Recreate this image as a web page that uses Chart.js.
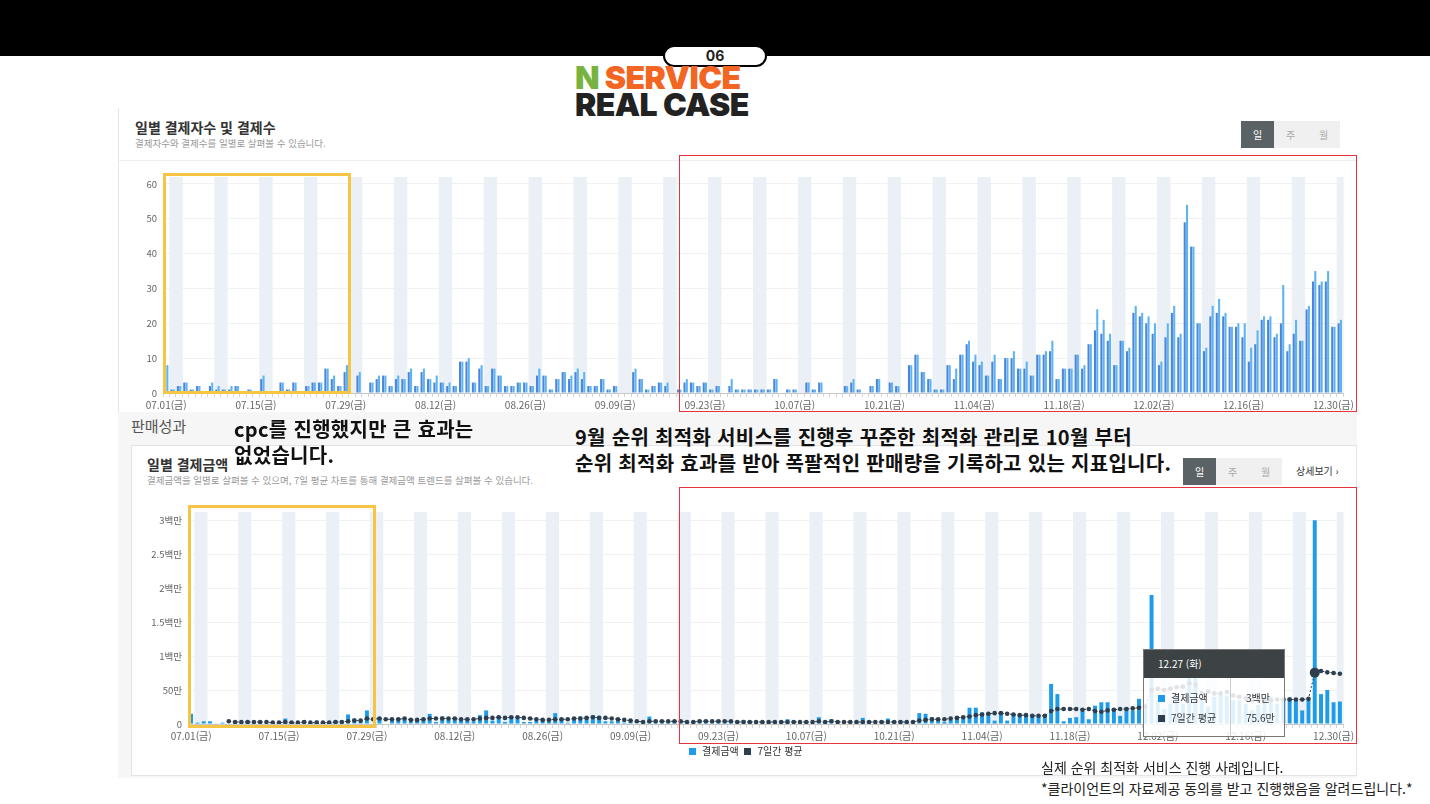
<!DOCTYPE html>
<html lang="ko">
<head>
<meta charset="utf-8">
<script src="https://cdn.jsdelivr.net/npm/chart.js@4.4.1/dist/chart.umd.min.js"></script>
<style>
  body { margin:0; width:1430px; height:804px; position:relative; overflow:hidden; background:#fff;
         font-family:"Noto Sans CJK KR","Noto Sans",sans-serif; color:#222; }
  .abs { position:absolute; }
  .topbar { left:0; top:0; width:1430px; height:56px; background:#000; }
  .pill { left:663px; top:45px; width:100px; height:18px; border:2px solid #000; border-radius:12px; background:#fff;
          font:700 14px/18px "Inter","Roboto",sans-serif; text-align:center; z-index:5; }
  .brand { left:575px; top:64px; font:900 32px/27px "Inter","Roboto",sans-serif; letter-spacing:-0.6px; z-index:5; }
  .brand .n { color:#78b340; } .brand .s { color:#f26522; }
  .panel1 { left:118px; top:108px; width:1239px; height:304px; background:#fff; border-left:1px solid #e6e6e6; }
  .panel1 .hr { position:absolute; left:0; top:52px; width:100%; height:1px; background:#efefef; }
  .graybg { left:118px; top:412px; width:1239px; height:366px; background:#f6f6f6; }
  .panel2 { left:131px; top:445px; width:1224px; height:329px; background:#fff; border:1px solid #e4e4e4; }
  .ttl { font-weight:700; font-size:14px; color:#333; white-space:nowrap; }
  .sub { font-size:9.5px; color:#999; white-space:nowrap; }
  .btns { display:flex; height:27px; }
  .btns div { width:33px; text-align:center; font-size:10px; line-height:27px; background:#f0f0f0; color:#aaa; }
  .btns div.on { background:#5a6266; color:#fff; }
  .yel { border:3px solid #f7c544; box-sizing:border-box; }
  .red { border:1.5px solid #e8323c; box-sizing:border-box; }
  .note { font-weight:700; font-size:20px; line-height:26px; letter-spacing:0.3px; color:#111; white-space:nowrap; }
  .tip { left:1143px; top:649px; width:142px; height:88px; border:1px solid #777; box-sizing:border-box;
         background:rgba(255,255,255,0.86); font-size:10px; color:#333; }
  .tip .hd { height:28px; background:#3d4244; color:#fff; line-height:28px; padding-left:14px; }
  .tip .row { position:absolute; left:14px; width:126px; height:14px; line-height:14px; white-space:nowrap; }
  .tip .val { position:absolute; left:88px; top:0; }
  .sq { display:inline-block; width:7px; height:7px; margin-right:6px; vertical-align:0px; }
  .legend { left:689px; top:743px; font-size:10px; color:#333; white-space:nowrap; }
  .foot { left:1041px; font-size:14px; color:#222; white-space:nowrap; }
</style>
</head>
<body>
<div class="abs topbar"></div>

<div class="abs panel1"><div class="hr"></div></div>
<div class="abs ttl" style="left:135px;top:117px;">일별 결제자수 및 결제수</div>
<div class="abs sub" style="left:135px;top:136px;">결제자수와 결제수를 일별로 살펴볼 수 있습니다.</div>
<div class="abs btns" style="left:1241px;top:121px;"><div class="on">일</div><div>주</div><div>월</div></div>

<div class="abs graybg"></div>
<div class="abs" style="left:131px;top:415px;font-size:15px;color:#555;">판매성과</div>
<div class="abs panel2"></div>
<div class="abs ttl" style="left:147px;top:454px;">일별 결제금액</div>
<div class="abs sub" style="left:147px;top:473px;">결제금액을 일별로 살펴볼 수 있으며, 7일 평균 차트를 통해 결제금액 트렌드를 살펴볼 수 있습니다.</div>
<div class="abs btns" style="left:1183px;top:458px;"><div class="on">일</div><div>주</div><div>월</div></div>
<div class="abs" style="left:1296px;top:463px;font-size:10px;color:#333;">상세보기 ›</div>

<canvas id="topChart" class="abs" style="left:120px;top:165px;" width="1235" height="250"></canvas>
<canvas id="bottomChart" class="abs" style="left:130px;top:500px;" width="1225" height="250"></canvas>

<div class="abs legend"><span class="sq" style="background:#1e9be9"></span>결제금액 &nbsp;<span class="sq" style="background:#2d3e4e"></span>7일간 평균</div>

<div class="abs yel" style="left:163px;top:173px;width:188px;height:221px;"></div>
<div class="abs yel" style="left:188px;top:505px;width:188px;height:223px;"></div>
<div class="abs red" style="left:679px;top:155px;width:678px;height:257px;"></div>
<div class="abs red" style="left:679px;top:487px;width:678px;height:257px;"></div>

<div class="abs note" style="left:234px;top:416px;">cpc를 진행했지만 큰 효과는<br>없었습니다.</div>
<div class="abs note" style="left:575px;top:424px;">9월 순위 최적화 서비스를 진행후 꾸준한 최적화 관리로 10월 부터<br>순위 최적화 효과를 받아 폭팔적인 판매량을 기록하고 있는 지표입니다.</div>

<div class="abs tip">
  <div class="hd">12.27 (화)</div>
  <div style="position:absolute;left:86px;top:28px;width:1px;height:58px;background:#ccc;"></div>
  <div class="row" style="top:41px;"><span class="sq" style="background:#1e9be9"></span>결제금액<span class="val">3백만</span></div>
  <div class="row" style="top:61px;"><span class="sq" style="background:#2d3e4e"></span>7일간 평균<span class="val">75.6만</span></div>
</div>

<div class="abs foot" style="top:757px;">실제 순위 최적화 서비스 진행 사례입니다.</div>
<div class="abs foot" style="top:778px;">*클라이언트의 자료제공 동의를 받고 진행했음을 알려드립니다.*</div>

<div class="abs pill">06</div>
<div class="abs brand"><span class="n">N</span> <span class="s">SERVICE</span><br>REAL CASE</div>

<script>
// 2022.07.01 ~ 2022.12.31, one bar per day
const startDate = new Date(2022, 6, 1);
const dayCount = 184;
const weekdayNames = ['일', '월', '화', '수', '목', '금', '토'];
const tickLabels = ['07.01(금)', '07.15(금)', '07.29(금)', '08.12(금)', '08.26(금)', '09.09(금)', '09.23(금)',
    '10.07(금)', '10.21(금)', '11.04(금)', '11.18(금)', '12.02(금)', '12.16(금)', '12.30(금)'];

// 결제자수
const payers = [
    7, 1, 2, 3, 1, 2, 0, 2, 1, 1,
    1, 2, 0, 1, 0, 4, 0, 0, 3, 1,
    3, 0, 2, 3, 3, 7, 4, 2, 6, 0,
    5, 0, 3, 4, 5, 2, 4, 4, 6, 2,
    6, 4, 3, 3, 2, 2, 9, 9, 3, 7,
    2, 7, 5, 2, 2, 3, 3, 2, 5, 5,
    1, 4, 6, 4, 6, 4, 2, 2, 4, 1,
    2, 0, 0, 6, 4, 1, 2, 3, 2, 0,
    1, 3, 3, 2, 3, 1, 2, 0, 2, 1,
    1, 1, 1, 1, 1, 4, 0, 1, 1, 0,
    3, 1, 3, 0, 0, 0, 2, 3, 1, 0,
    2, 4, 0, 3, 2, 0, 8, 11, 6, 4,
    1, 1, 8, 4, 11, 14, 9, 8, 5, 9,
    4, 10, 10, 7, 7, 5, 11, 11, 12, 4,
    7, 7, 11, 7, 14, 18, 17, 15, 8, 15,
    12, 23, 22, 20, 17, 8, 16, 23, 16, 49,
    42, 20, 12, 22, 23, 22, 19, 19, 16, 9,
    14, 21, 21, 16, 20, 12, 17, 15, 24, 32,
    31, 32, 19, 20
];
// 결제수
const payments = [
    8, 1, 2, 3, 1, 2, 0, 3, 2, 1,
    2, 2, 0, 1, 0, 5, 0, 0, 3, 1,
    3, 0, 2, 3, 3, 7, 5, 2, 8, 0,
    6, 0, 3, 5, 5, 2, 5, 4, 7, 2,
    7, 4, 5, 3, 3, 2, 9, 10, 3, 8,
    2, 7, 5, 2, 2, 3, 3, 2, 7, 5,
    1, 4, 6, 5, 7, 6, 2, 2, 4, 1,
    2, 0, 0, 7, 4, 1, 2, 3, 3, 0,
    1, 4, 3, 2, 3, 1, 2, 0, 4, 1,
    1, 1, 1, 1, 1, 4, 0, 1, 1, 0,
    3, 1, 3, 0, 0, 0, 2, 4, 1, 0,
    2, 4, 0, 3, 2, 0, 8, 11, 6, 4,
    1, 1, 8, 7, 11, 15, 11, 9, 5, 11,
    4, 10, 12, 7, 9, 5, 11, 12, 15, 4,
    7, 7, 11, 8, 14, 24, 21, 17, 8, 15,
    13, 25, 23, 22, 20, 9, 20, 25, 17, 54,
    42, 20, 13, 25, 27, 23, 19, 20, 20, 13,
    18, 22, 22, 17, 31, 14, 21, 15, 25, 35,
    32, 35, 19, 21
];
// 결제금액 (만원)
const salesAmount = [
    15, 2, 4, 4, 1, 2, 0, 3, 2, 2,
    2, 3, 0, 1, 0, 8, 0, 0, 5, 2,
    5, 0, 4, 5, 5, 14, 8, 4, 20, 0,
    10, 0, 5, 8, 9, 3, 8, 7, 15, 3,
    11, 7, 8, 5, 5, 4, 13, 20, 5, 12,
    3, 11, 8, 3, 3, 5, 5, 3, 16, 8,
    2, 7, 11, 8, 13, 12, 4, 4, 7, 2,
    3, 0, 0, 11, 6, 2, 3, 5, 4, 0,
    2, 6, 5, 3, 5, 2, 3, 0, 6, 2,
    2, 2, 2, 2, 2, 7, 0, 2, 2, 0,
    10, 2, 7, 0, 0, 0, 4, 9, 2, 0,
    3, 8, 0, 5, 3, 0, 16, 15, 10, 7,
    3, 6, 11, 12, 24, 24, 17, 15, 5, 18,
    5, 15, 15, 13, 14, 13, 13, 59, 44, 4,
    9, 10, 19, 7, 27, 32, 32, 22, 12, 24,
    20, 37, 28, 190, 35, 22, 30, 42, 30, 95,
    70, 35, 25, 40, 45, 42, 35, 35, 30, 20,
    28, 40, 40, 30, 38, 39, 34, 20, 38, 300,
    44, 50, 32, 33
];
// 7일간 평균 (만원)
const weeklyAvg = [
    null, null, null, null, null, null, 4, 3, 3, 3,
    3, 3, 3, 2, 2, 3, 2, 2, 3, 2,
    2, 2, 2, 3, 3, 4, 5, 5, 8, 7,
    8, 7, 7, 7, 8, 6, 6, 7, 8, 8,
    8, 8, 8, 7, 7, 7, 8, 9, 9, 10,
    9, 10, 10, 9, 8, 7, 6, 6, 7, 7,
    7, 8, 8, 9, 10, 9, 9, 8, 7, 6,
    5, 4, 3, 4, 4, 4, 4, 4, 4, 3,
    3, 4, 4, 4, 4, 4, 4, 3, 3, 3,
    3, 3, 3, 3, 3, 3, 3, 3, 3, 3,
    4, 3, 4, 3, 3, 3, 3, 3, 3, 3,
    3, 3, 3, 3, 3, 3, 5, 6, 7, 7,
    7, 8, 9, 10, 11, 13, 14, 15, 16, 16,
    15, 14, 13, 13, 12, 12, 12, 19, 22, 22,
    22, 22, 21, 22, 19, 18, 20, 21, 22, 22,
    23, 24, 26, 50, 52, 50, 52, 54, 55, 60,
    58, 45, 48, 45, 45, 47, 42, 40, 38, 35,
    35, 35, 35, 36, 36, 36, 36, 36, 37, 75.6,
    78, 76, 75, 74
];
const activeDay = 179; // 12.27 (화)

const days = [];
const weekendIdx = [];
for (let i = 0; i < dayCount; i++) {
    const d = new Date(startDate);
    d.setDate(d.getDate() + i);
    const mm = String(d.getMonth() + 1).padStart(2, '0');
    const dd = String(d.getDate()).padStart(2, '0');
    days.push(`${mm}.${dd}(${weekdayNames[d.getDay()]})`);
    if (d.getDay() === 0 || d.getDay() === 6) weekendIdx.push(i);
}

const FONT = '"Noto Sans CJK KR", "Noto Sans", sans-serif';

// light stripes behind weekends
const weekendStripes = {
    id: 'weekendStripes',
    beforeDatasetsDraw(chart) {
        const {ctx, chartArea, scales: {x}} = chart;
        const step = x.getPixelForValue(1) - x.getPixelForValue(0);
        ctx.save();
        ctx.fillStyle = '#ebf0f6';
        weekendIdx.forEach(i => {
            const cx = x.getPixelForValue(i);
            ctx.fillRect(cx - step / 2, chartArea.top, step + 0.6, chartArea.bottom - chartArea.top);
        });
        ctx.restore();
    }
};

function xAxis(height) {
    return {
        offset: true,
        afterFit(scale) { scale.height = height; },
        grid: {display: true, drawOnChartArea: false, drawTicks: true, tickLength: 4, color: '#d6d6d6'},
        border: {display: true, color: '#c8c8c8'},
        ticks: {
            autoSkip: false, maxRotation: 0, minRotation: 0, padding: 2,
            color: '#666', font: {family: FONT, size: 10},
            callback(value, index) {
                return tickLabels.includes(days[index]) ? days[index] : '';
            }
        }
    };
}

Chart.defaults.animation = false;
Chart.defaults.responsive = false;

new Chart(document.getElementById('topChart'), {
    type: 'bar',
    data: {
        labels: days,
        datasets: [
            {label: '결제자수', data: payers, backgroundColor: '#4d86d8', categoryPercentage: 0.72, barPercentage: 0.9},
            {label: '결제수', data: payments, backgroundColor: '#5cb5f2', categoryPercentage: 0.72, barPercentage: 0.9}
        ]
    },
    options: {
        layout: {padding: {top: 12, right: 12, left: 0, bottom: 0}},
        plugins: {legend: {display: false}, tooltip: {enabled: false}},
        scales: {
            x: xAxis(22),
            y: {
                min: 0, max: 62,
                afterFit(scale) { scale.width = 43; },
                grid: {color: '#f1f1f1', drawTicks: false},
                border: {display: false},
                ticks: {stepSize: 10, includeBounds: false, padding: 6, color: '#666', font: {family: FONT, size: 9.5}}
            }
        }
    },
    plugins: [weekendStripes]
});

const moneyTicks = {0: '0', 50: '50만', 100: '1백만', 150: '1.5백만', 200: '2백만', 250: '2.5백만', 300: '3백만'};

new Chart(document.getElementById('bottomChart'), {
    type: 'bar',
    data: {
        labels: days,
        datasets: [
            {
                type: 'line', label: '7일간 평균', data: weeklyAvg, order: 0,
                borderColor: '#2d3e4e', borderWidth: 1, borderDash: [2, 2],
                pointBackgroundColor: '#2d3e4e', pointBorderWidth: 0,
                pointRadius: ctx => ctx.dataIndex === activeDay ? 5 : 2.3
            },
            {
                type: 'bar', label: '결제금액', data: salesAmount, order: 1,
                backgroundColor: '#1e9be9', categoryPercentage: 0.7, barPercentage: 0.9
            }
        ]
    },
    options: {
        layout: {padding: {top: 12, right: 12, left: 0, bottom: 0}},
        plugins: {legend: {display: false}, tooltip: {enabled: false}},
        scales: {
            x: xAxis(26),
            y: {
                min: 0, max: 312,
                afterFit(scale) { scale.width = 58; },
                grid: {color: '#f1f1f1', drawTicks: false},
                border: {display: false},
                ticks: {
                    stepSize: 50, includeBounds: false, padding: 6, color: '#666', font: {family: FONT, size: 9.5},
                    callback: v => moneyTicks[v] ?? ''
                }
            }
        }
    },
    plugins: [weekendStripes]
});
</script>
</body>
</html>
